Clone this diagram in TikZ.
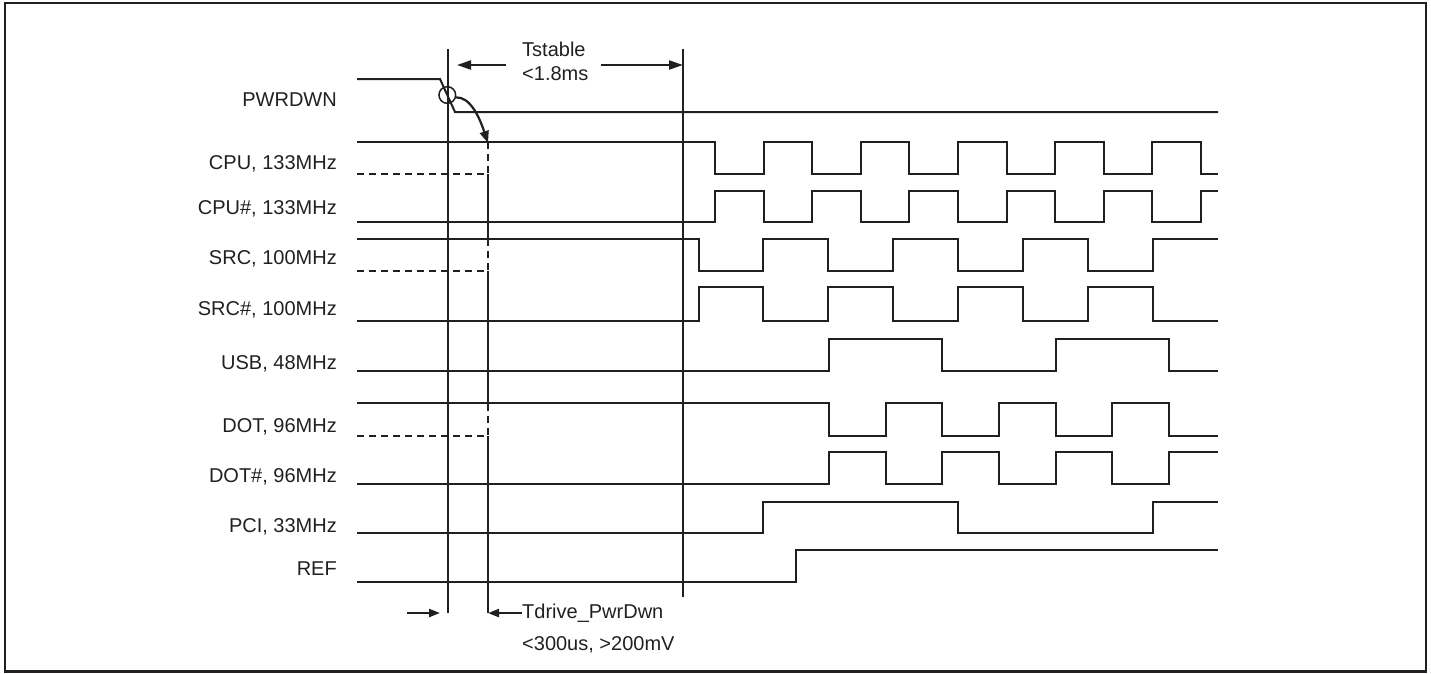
\documentclass[tikz,border=0pt]{standalone}
\usepackage{fontspec}
\setmainfont{Liberation Sans}
\usetikzlibrary{arrows.meta}
\definecolor{ink}{RGB}{35,31,32}
\begin{document}
\begin{tikzpicture}[x=1pt,y=-1pt,
  sig/.style={draw=ink, line width=2pt, line join=miter},
  marker/.style={draw=ink, line width=2.5pt},
  undriven/.style={draw=ink, line width=2.5pt, dash pattern=on 7pt off 5pt},
  lbl/.style={anchor=base east, inner sep=0pt, text=ink, font=\fontsize{20}{23}\selectfont},
  note/.style={anchor=base west, inner sep=0pt, text=ink, font=\fontsize{20}{23}\selectfont},
  bigarrow/.style={draw=ink, line width=2.2pt, -{Triangle[length=14pt,width=9pt]}},
  smallarrow/.style={draw=ink, line width=2.2pt, -{Triangle[length=11pt,width=8pt]}},
  curvearrow/.style={draw=ink, line width=2.2pt, -{Triangle[length=12pt,width=9pt]}},
]
\useasboundingbox (0,0) rectangle (1431,673);
\draw[ink, line width=2.2pt] (5,3) rectangle (1426,671.5);

% labels
\node[lbl] (lpwr)  at (337,106)   {PWRDWN};
\node[lbl] (lcpu)  at (337,169)   {CPU, 133MHz};
\node[lbl] (lcpun) at (337,214)   {CPU\#, 133MHz};
\node[lbl] (lsrc)  at (337,264)   {SRC, 100MHz};
\node[lbl] (lsrcn) at (337,315.5) {SRC\#, 100MHz};
\node[lbl] (lusb)  at (337,369)   {USB, 48MHz};
\node[lbl] (ldot)  at (337,432)   {DOT, 96MHz};
\node[lbl] (ldotn) at (337,482)   {DOT\#, 96MHz};
\node[lbl] (lpci)  at (337,532)   {PCI, 33MHz};
\node[lbl] (lref)  at (337,575.5) {REF};

% marker coordinates
\coordinate (t1top) at (448,49);
\coordinate (t1bot) at (448,613);
\coordinate (t2top) at (488,143);
\coordinate (t2bot) at (488,613);
\coordinate (t3top) at (683,49);
\coordinate (t3bot) at (683,597);

% PWRDWN
\draw[sig] (357,79) -- (440,79) -- (455,112) -- (1218,112);

% CPU
\draw[sig] (357,142) -| (715,174) -| (763.6,142) -| (812.2,174) -| (860.8,142) -| (909.4,174)
  -| (958,142) -| (1006.6,174) -| (1055.2,142) -| (1103.8,174) -| (1152.4,142) -| (1201,174) -- (1218,174);
% CPU#
\draw[sig] (357,222) -| (715,191) -| (763.6,222) -| (812.2,191) -| (860.8,222) -| (909.4,191)
  -| (958,222) -| (1006.6,191) -| (1055.2,222) -| (1103.8,191) -| (1152.4,222) -| (1201,191) -- (1218,191);
% SRC
\draw[sig] (357,239) -| (698.5,271) -| (763.3,239) -| (828.2,271) -| (893.1,239) -| (958,271)
  -| (1022.9,239) -| (1087.8,271) -| (1152.7,239) -- (1218,239);
% SRC#
\draw[sig] (357,320.5) -| (698.5,287) -| (763.3,320.5) -| (828.2,287) -| (893.1,320.5) -| (958,287)
  -| (1022.9,320.5) -| (1087.8,287) -| (1152.7,320.5) -- (1218,320.5);
% USB
\draw[sig] (357,371) -| (829,339) -| (942.3,371) -| (1055.7,339) -| (1169,371) -- (1218,371);
% DOT
\draw[sig] (357,403) -| (829,436) -| (885.7,403) -| (942.3,436) -| (999,403) -| (1055.7,436)
  -| (1112.3,403) -| (1169,436) -- (1218,436);
% DOT#
\draw[sig] (357,484) -| (829,452) -| (885.7,484) -| (942.3,452) -| (999,484) -| (1055.7,452)
  -| (1112.3,484) -| (1169,452) -- (1218,452);
% PCI
\draw[sig] (357,533) -| (763.3,502) -| (958.3,533) -| (1153.3,502) -- (1218,502);
% REF
\draw[sig] (357,582) -| (796,550) -- (1218,550);

% undriven (dashed) levels
\draw[undriven] (357,174) -- (488,174) -- (t2top);
\draw[undriven] (357,271) -- (488,271) -- (488,239);
\draw[undriven] (357,436) -- (488,436) -- (488,403);

% marker lines
\draw[marker] (t1top) -- (t1bot);
\draw[marker] (t3top) -- (t3bot);
\draw[marker] (488,174) -- (488,239);
\draw[marker] (488,271) -- (488,403);
\draw[marker] (488,436) -- (t2bot);

% circle and curved arrow
\node[circle, draw=ink, line width=1.5pt, minimum size=16.7pt, inner sep=0pt] (ring) at (447.3,95) {};
\draw[curvearrow] (ring.-15) .. controls (470,97) and (479,116) .. (t2top);

% Tstable
\node[note] (tstable) at (522,56.7) {Tstable};
\node[note] (tlimit)  at (522,80)   {<1.8ms};
\coordinate (tsl) at (506,65);
\coordinate (tsltip) at (457,65);
\coordinate (tsr) at (601,65);
\draw[bigarrow] (tsl) -- (tsltip);
\draw[bigarrow] (tsr) -- (t3top |- tsr);

% Tdrive
\node[note] (tdrive)  at (522,618.3) {Tdrive\_PwrDwn};
\node[note] (tdlimit) at (522,650.7) {<300us, >200mV};
\coordinate (inarrow) at (407,613);
\coordinate (inarrowtip) at (440,613);
\draw[smallarrow] (inarrow) -- (inarrowtip);
\draw[smallarrow] (tdrive.west) -- (tdrive.west -| t2bot);
\end{tikzpicture}
\end{document}
